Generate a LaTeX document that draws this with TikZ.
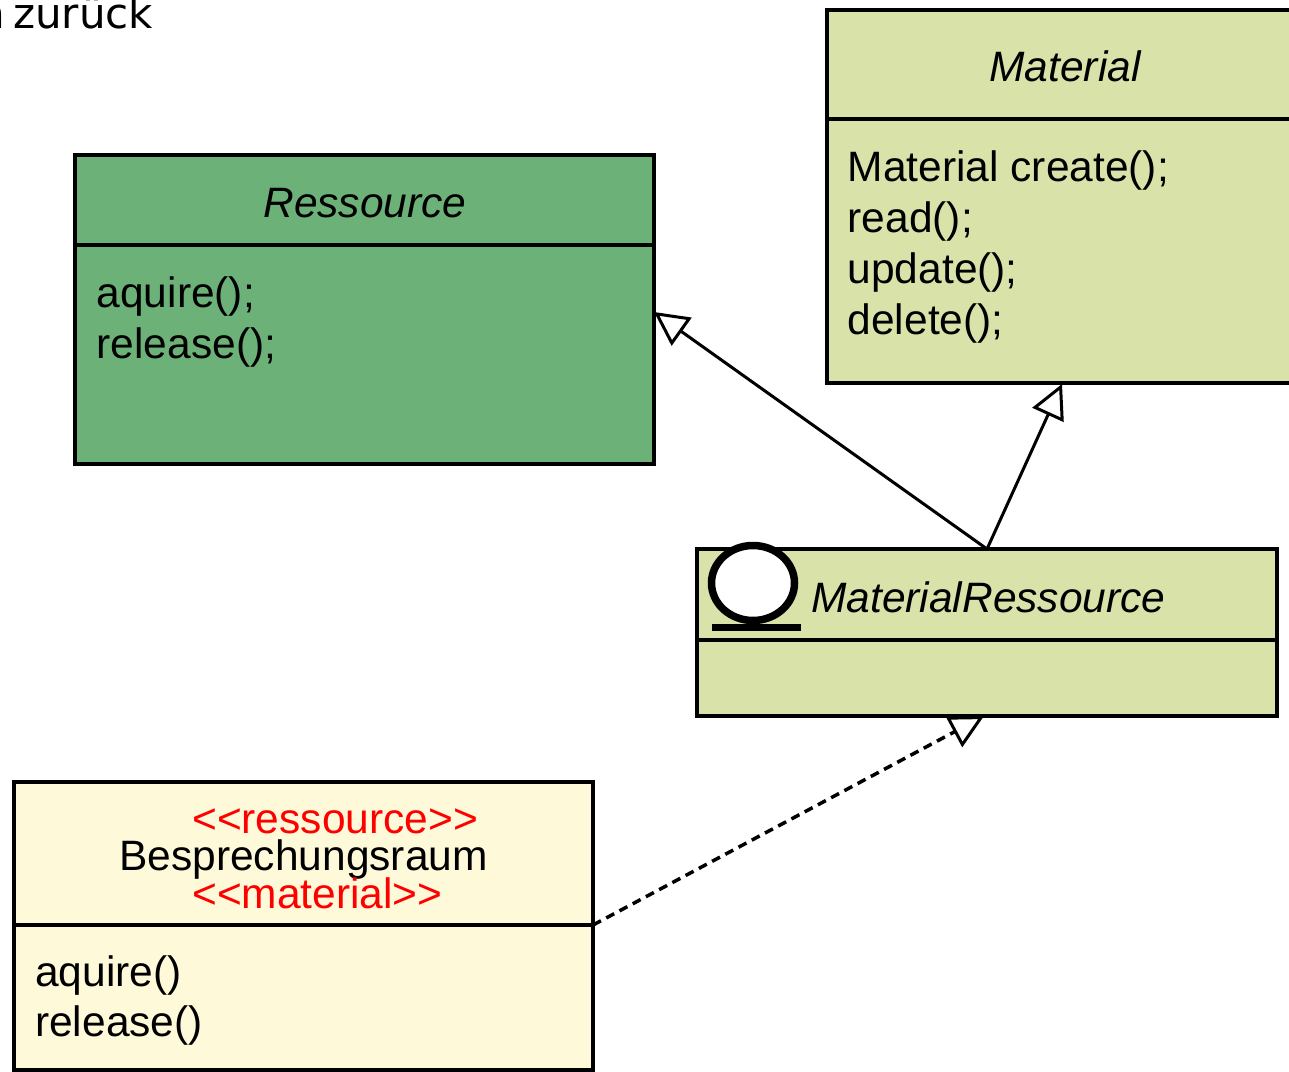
\documentclass[tikz,border=0pt]{standalone}
\usepackage{fontspec}
\setmainfont{Liberation Sans}[Ligatures=TeXOff]
\newfontfamily\djv{DejaVu Sans}
\usetikzlibrary{arrows.meta}
\pgfdeclarelayer{bg}
\pgfsetlayers{bg,main}
\definecolor{resgreen}{HTML}{6CB178}
\definecolor{matgreen}{HTML}{D9E3A9}
\definecolor{besyellow}{HTML}{FEFAD9}
\definecolor{stered}{HTML}{FF0000}
\begin{document}
\begin{tikzpicture}[x=1pt,y=-1pt,
  box/.style={draw=black, line width=3.5pt, rectangle, inner sep=0pt, outer sep=0pt, anchor=north west},
  txt/.style={inner sep=0pt, font=\fontsize{42.5}{51}\selectfont},
  ttl/.style={txt, anchor=base, font=\fontsize{42.5}{51}\selectfont\itshape},
  mth/.style={txt, anchor=base west},
  ster/.style={txt, anchor=base west, text=stered},
  gen/.style={line width=3pt, -{Triangle[length=34pt, width=34pt, fill=white]}},
  real/.style={line width=3.5pt, dash pattern=on 9pt off 6pt, -{Triangle[length=34pt, width=34pt, fill=white, line width=3pt]}}]
\useasboundingbox (0,0) rectangle (1289,1071);
\clip (0,0) rectangle (1289,1071);

% top-left cut text
\node[inner sep=0pt, anchor=base west, font=\djv\fontsize{42}{50}\selectfont] (topt) at (-21.5,28) {n\hspace{-5.5pt} zurück};

% Ressource
\node[box, fill=resgreen, minimum width=579pt, minimum height=90pt] (resH) at (75,155) {};
\node[box, fill=resgreen, minimum width=579pt, minimum height=219pt] (resB) at (75,245) {};
\node[ttl] (resT1) at (365,217) {Ressource};
\node[mth] (resM1) at (96.5,307) {aquire();};
\node[mth] (resM2) at (96.5,358) {release();};

% Material
\node[box, fill=matgreen, minimum width=476pt, minimum height=109pt] (matH) at (827,10) {};
\node[box, fill=matgreen, minimum width=476pt, minimum height=264pt] (matB) at (827,119) {};
\node[ttl] (matT1) at (1065,81) {Material};
\node[mth] (matM1) at (847.5,181) {Material create();};
\node[mth] (matM2) at (847.5,232) {read();};
\node[mth] (matM3) at (847.5,283) {update();};
\node[mth] (matM4) at (847.5,334) {delete();};

% MaterialRessource
\node[box, fill=matgreen, minimum width=580pt, minimum height=91pt] (mrH) at (697,549) {};
\node[box, fill=matgreen, minimum width=580pt, minimum height=76pt] (mrB) at (697,640) {};
\node[txt, anchor=base west, font=\fontsize{42.5}{51}\selectfont\itshape] (mrT1) at (811,612) {MaterialRessource};
\draw[line width=7.5pt, fill=white] (753,583) ellipse [x radius=41.5pt, y radius=37.5pt];
\draw[line width=7pt] (712,627.5) -- (801,627.5);

% Besprechungsraum
\node[box, fill=besyellow, minimum width=579pt, minimum height=143pt] (besH) at (14,782) {};
\node[box, fill=besyellow, minimum width=579pt, minimum height=145pt] (besB) at (14,925) {};
\node[ster] (besS1) at (192,833) {<<ressource>>};
\node[txt, anchor=base] (besN) at (303.5,870) {Besprechungsraum};
\node[ster] (besS2) at (192,908) {<<material>>};
\node[mth] (besM1) at (35,986) {aquire()};
\node[mth] (besM2) at (35,1036) {release()};

% connector end points
\coordinate (resIn) at (654,312);
\coordinate (matIn) at (1062,384);
\coordinate (mrIn) at (984,716);

\begin{pgfonlayer}{bg}
\draw[gen] (mrH.north) -- (resIn);
\draw[gen] (mrH.north) -- (matIn);
\draw[real] (besH.south east) -- (mrIn);
\end{pgfonlayer}
\end{tikzpicture}
\end{document}
